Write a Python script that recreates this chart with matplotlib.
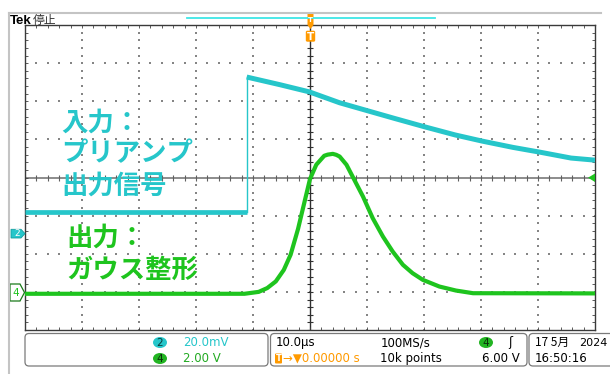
import numpy as np
import matplotlib
matplotlib.use("Agg")
import matplotlib.pyplot as plt
from matplotlib.patches import FancyBboxPatch, Polygon, Ellipse

# ---- values (time in us) ----
# CH2: preamp output, mV (20.0 mV/div, ground at -1.5 div)
ch2_base_t = [-50.0, -11.1]
ch2_base_mv = [11.7, 11.7]
ch2_decay_t = [-11.1, -5.3, -0.1, 5.2, 10.0, 14.7, 20.1, 25.5, 30.2, 35.6, 40.5, 45.8, 50.0]
ch2_decay_mv = [82.7, 78.7, 74.9, 69.2, 65.1, 61.1, 56.6, 52.3, 49.1, 45.8, 43.2, 40.2, 39.1]

# CH4: gaussian shaper output, V (2.00 V/div, ground at -3 div)
ch4_t = [-50.0, -28.0, -11.5, -9.0, -7.5, -6.0, -4.6, -3.4, -2.1, -0.7, 0.0, 1.1, 2.5, 3.1, 4.0,
         4.6, 5.2, 6.4, 7.7, 9.3, 11.0, 12.8, 14.5, 16.3, 18.0, 19.8, 22.7, 25.6, 28.6, 50.0]
ch4_v = [-0.10, -0.10, -0.10, 0.00, 0.20, 0.55, 1.15, 1.95, 3.30, 5.05, 5.92, 6.67, 7.14, 7.20, 7.24,
         7.19, 7.10, 6.67, 5.92, 5.00, 3.87, 2.90, 2.12, 1.42, 0.98, 0.63, 0.28, 0.07, -0.07, -0.08]

ch2_scale, ch2_pos = 20.0, -1.5
ch4_scale, ch4_pos = 2.0, -3.0

CYAN = '#26c6ca'
GREEN = '#1ec41e'
ORANGE = '#ff9a00'
CJK = ['Noto Sans CJK JP', 'DejaVu Sans']

W, H = 610, 374
fig = plt.figure(figsize=(W / 100, H / 100), dpi=100)

# graticule area in pixels
GL, GR, GT, GB = 25, 595, 25, 330
ax = fig.add_axes([GL / W, 1 - GB / H, (GR - GL) / W, (GB - GT) / H])
ax.set_xlim(-50, 50)
ax.set_ylim(-4, 4)

# dotted graticule
xs = np.arange(-50, 50.01, 2)
ys = np.arange(-4, 4.01, 0.2)
for gx in range(-40, 41, 10):
    if gx != 0:
        ax.scatter(np.full_like(ys, gx), ys, s=0.9, c='#858585', marker='s', linewidths=0, zorder=1)
for gy in range(-3, 4):
    if gy != 0:
        ax.scatter(xs, np.full_like(xs, gy), s=0.9, c='#858585', marker='s', linewidths=0, zorder=1)

# centre cross with ticks
ax.axhline(0, color='#8c8c8c', lw=1.4, zorder=1)
ax.plot(xs, np.zeros_like(xs), ls='none', marker='|', ms=5, mew=0.8, color='#606060', zorder=1)
ax.axvline(0, color='#303030', lw=1.0, zorder=1)
ax.plot(np.zeros_like(ys), ys, ls='none', marker='_', ms=5, mew=0.8, color='#303030', zorder=1)

ax.set_xticks(np.arange(-50, 51, 10))
ax.set_xticks(xs, minor=True)
ax.set_yticks(np.arange(-4, 5, 1))
ax.set_yticks(ys, minor=True)
ax.tick_params(which='both', direction='in', length=2.5, width=0.6, top=True, right=True,
               labelbottom=False, labelleft=False, color='#404040')
for s in ax.spines.values():
    s.set_color('#3a3a3a')
    s.set_linewidth(1.0)

# traces
b = np.array(ch2_base_mv) / ch2_scale + ch2_pos
d = np.array(ch2_decay_mv) / ch2_scale + ch2_pos
ax.plot(ch2_base_t, b, color=CYAN, lw=3.4, solid_capstyle='butt', zorder=3)
ax.plot(ch2_decay_t, d, color=CYAN, lw=3.6, solid_capstyle='butt', zorder=3)
ax.plot([ch2_base_t[-1], ch2_decay_t[0]], [b[-1], d[0]], color=CYAN, lw=1.0, zorder=3)
ax.plot(ch4_t, np.array(ch4_v) / ch4_scale + ch4_pos, color=GREEN, lw=3.0,
        solid_capstyle='butt', zorder=3)

# ---- overlay in pixel coordinates for the scope furniture ----
ov = fig.add_axes([0, 0, 1, 1], zorder=5)
ov.set_xlim(0, W)
ov.set_ylim(H, 0)
ov.axis('off')
ov.patch.set_alpha(0)

ov.plot([8.5, 8.5], [12.5, H], color='#c4c4c4', lw=1.5)
ov.plot([8.5, 601], [12.5, 12.5], color='#c4c4c4', lw=1.5)

ov.text(9.5, 23.5, 'Tek', family='Liberation Sans', fontweight='bold', fontsize=9.5,
        va='baseline', ha='left', color='black')
ov.text(32.5, 23.5, '停止', family=CJK, fontsize=8.5, va='baseline', ha='left', color='#333333')

# record window bar
ov.plot([187, 435], [18.3, 18.3], color='#3ee6e6', lw=1.3)

# trigger position markers
ov.add_patch(Polygon([(307.5, 14), (313.5, 14), (313.5, 25), (310.5, 29), (307.5, 25)],
                     closed=True, fc=ORANGE, ec='none'))
ov.text(310.5, 19.5, 'T', color='white', fontsize=5, fontweight='bold', ha='center', va='center')
ov.add_patch(FancyBboxPatch((305.8, 30.7), 9.4, 11, boxstyle='round,pad=0,rounding_size=1.5',
                            fc=ORANGE, ec='none'))
ov.text(310.5, 36.5, 'T', color='white', fontsize=7.5, fontweight='bold', ha='center', va='center')

# channel ground markers
ov.add_patch(Polygon([(11, 229.3), (21, 229.3), (25, 233.6), (21, 238), (11, 238)],
                     closed=True, fc=CYAN, ec='#159ea0', lw=0.6))
ov.text(17, 233.8, '2', color='white', fontsize=6.5, ha='center', va='center')
ov.add_patch(Polygon([(10, 284), (20, 284), (24.5, 292.5), (20, 301), (10, 301)],
                     closed=True, fc='white', ec='#1a7a1a', lw=0.9))
ov.text(16, 292.5, '4', color=GREEN, fontsize=7.5, ha='center', va='center')

# trigger level marker
ov.add_patch(Polygon([(595, 173.5), (595, 182), (588, 177.7)], closed=True, fc=GREEN, ec='none'))

# annotations
ov.text(61, 123, '入力：', family=CJK, fontweight='bold', fontsize=19, color=CYAN,
        ha='left', va='center')
ov.text(61, 154, 'プリアンプ', family=CJK, fontweight='bold', fontsize=19, color=CYAN,
        ha='left', va='center')
ov.text(61, 186, '出力信号', family=CJK, fontweight='bold', fontsize=19, color=CYAN,
        ha='left', va='center')
ov.text(66, 238, '出力：', family=CJK, fontweight='bold', fontsize=19, color=GREEN,
        ha='left', va='center')
ov.text(66, 270, 'ガウス整形', family=CJK, fontweight='bold', fontsize=19, color=GREEN,
        ha='left', va='center')

# ---- readout boxes ----
for x0, w in [(25, 243), (270.5, 256.5), (529, 90)]:
    ov.add_patch(FancyBboxPatch((x0, 333.5), w, 32.5, boxstyle='round,pad=0,rounding_size=4',
                                fc='white', ec='#7a7a7a', lw=0.9))

r1, r2 = 342.5, 358.5
fs = 8.5
ov.add_patch(Ellipse((160, r1), 14, 11, fc=CYAN, ec='none'))
ov.text(160, r1 + 0.5, '2', fontsize=7.5, ha='center', va='center', color='#0a3a3a')
ov.text(183, r1, '20.0mV', fontsize=fs, ha='left', va='center', color=CYAN)
ov.add_patch(Ellipse((160, r2), 14, 11, fc='#22b422', ec='none'))
ov.text(160, r2 + 0.5, '4', fontsize=7.5, ha='center', va='center', color='#0a300a')
ov.text(183, r2, '2.00 V', fontsize=fs, ha='left', va='center', color='#22aa22')

ov.text(275.5, r1, '10.0µs', fontsize=fs, ha='left', va='center', color='black')
ov.text(380.5, r1, '100MS/s', fontsize=fs, ha='left', va='center', color='black')
ov.add_patch(Ellipse((486, r1), 14, 11, fc='#22b422', ec='none'))
ov.text(486, r1 + 0.5, '4', fontsize=7.5, ha='center', va='center', color='#0a300a')
ov.text(510, r1, 'ʃ', fontsize=fs, ha='center', va='center', color='black')

ov.add_patch(FancyBboxPatch((275, r2 - 5), 7, 10, boxstyle='round,pad=0,rounding_size=1',
                            fc=ORANGE, ec='none'))
ov.text(278.5, r2 + 0.3, 'T', fontsize=6, fontweight='bold', ha='center', va='center', color='white')
ov.text(283, r2, '→▼0.00000 s', fontsize=fs, ha='left', va='center', color=ORANGE)
ov.text(380.5, r2, '10k points', fontsize=fs, ha='left', va='center', color='black')
ov.text(520, r2, '6.00 V', fontsize=fs, ha='right', va='center', color='black')

ov.text(535, r1, '17 5月', family=CJK, fontsize=fs, ha='left', va='center', color='black')
ov.text(608, r1, '2024', fontsize=8, ha='right', va='center', color='black')
ov.text(535, r2, '16:50:16', fontsize=fs, ha='left', va='center', color='black')

fig.savefig('out.png', dpi=100)
